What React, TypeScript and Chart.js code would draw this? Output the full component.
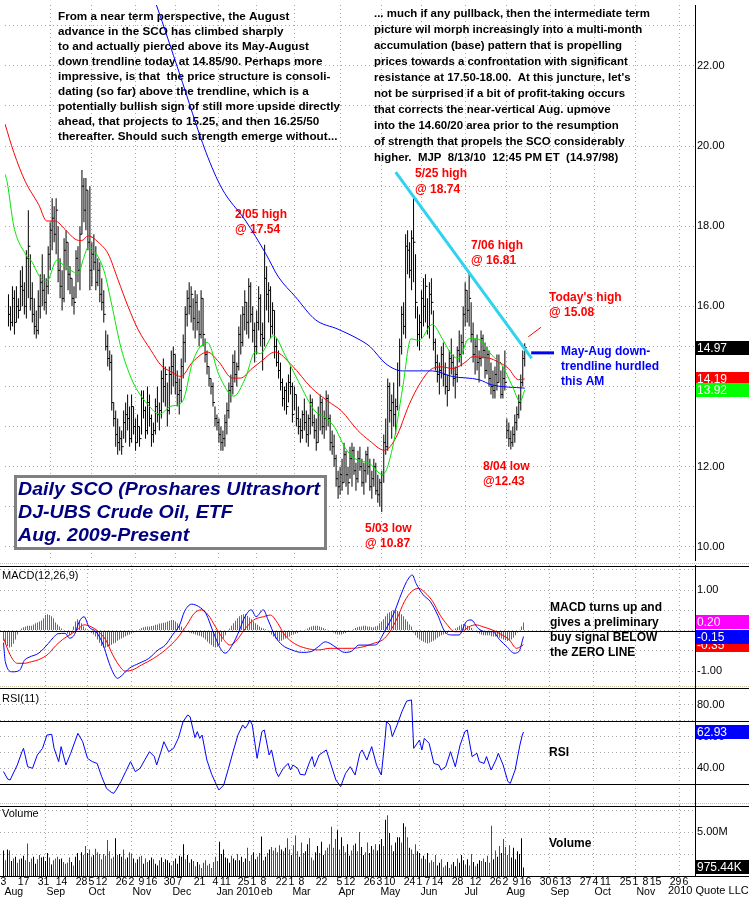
import React, { useEffect, useRef } from 'react';
import { Chart, registerables } from 'chart.js';

Chart.register(...registerables);
if (typeof document !== 'undefined') document.body.style.margin = '0';

// ---------------- data ----------------
// daily bars, index 0 = 2009-08-03 ... 260 = 2010-08-13
const LOWS = [
  15.5, 15.4, 15.5, 15.3, 15.6, 15.7, 15.9, 16.0, 15.8, 15.7,
  16.2, 15.9, 15.6, 15.3, 15.2, 15.3, 15.7, 16.0, 15.9, 15.8,
  16.3, 16.9, 17.4, 17.6, 17.3, 16.6, 16.2, 15.9, 16.1, 16.9,
  16.4, 16.3, 16.0, 15.8, 16.2, 16.6, 16.4, 17.8, 18.1, 17.9,
  17.4, 16.4, 16.5, 16.9, 16.4, 16.5, 16.1, 15.9, 15.6, 14.9,
  14.5, 14.4, 13.4, 13.0, 12.5, 12.3, 12.4, 12.3, 12.7, 12.6,
  12.9, 12.5, 12.6, 12.8, 12.4, 12.6, 12.5, 12.8, 13.2, 12.7,
  12.8, 13.0, 12.5, 12.6, 12.8, 13.1, 12.9, 13.2, 13.6, 13.5,
  13.0, 13.3, 13.8, 14.0, 13.8, 13.5, 13.3, 13.6, 14.2, 14.6,
  15.5, 15.8, 15.6, 15.4, 15.2, 15.4, 15.0, 15.2, 15.0, 14.6,
  14.3, 14.0, 13.8, 13.5, 13.0, 12.9, 12.6, 12.4, 12.4, 12.5,
  12.8, 13.2, 13.6, 13.8, 14.1, 14.0, 14.4, 14.8, 15.0, 15.4,
  15.3, 15.2, 15.6, 15.1, 14.6, 14.8, 15.4, 15.0, 14.4, 15.0,
  15.9, 15.6, 15.2, 15.3, 14.7, 14.5, 14.2, 13.9, 13.5, 13.4,
  13.3, 13.6, 13.8, 13.1, 13.4, 13.0, 12.8, 12.6, 12.7, 12.9,
  12.6, 12.5, 12.8, 13.0, 12.7, 12.4, 12.6, 12.9, 12.8, 12.7,
  12.9, 13.0, 12.4, 12.3, 12.0, 11.5, 11.2, 11.3, 11.4, 11.6,
  11.5, 11.3, 11.7, 11.5, 11.8, 11.4, 11.6, 11.9, 11.5, 11.3,
  11.6, 11.8, 11.4, 11.2, 11.5, 11.3, 11.1, 11.0, 10.87, 11.6,
  12.3, 12.4, 13.1, 12.7, 13.0, 12.8, 13.4, 14.0, 14.8, 15.3,
  15.2, 16.8, 16.7, 16.4, 16.6, 15.7, 15.0, 14.9, 15.2, 15.5,
  15.6, 15.3, 15.2, 15.8, 14.9, 14.4, 14.1, 13.8, 14.2, 14.0,
  13.8, 13.5, 13.9, 14.3, 14.0, 13.7, 14.1, 14.6, 14.5, 14.8,
  15.5, 15.6, 15.5, 15.1, 14.6, 14.3, 14.4, 14.1, 14.5, 14.7,
  14.2, 14.3, 14.0, 13.8, 13.7, 13.7, 13.9, 14.1, 13.7, 13.7,
  13.9, 12.7, 12.5, 12.43, 12.5, 12.6, 12.9, 13.2, 13.4, 14.0, 14.5,
];
const HIGHS = [
  16.3, 16.0, 16.5, 16.4, 16.5, 16.2, 16.9, 17.0, 16.6, 17.4,
  18.4, 17.3, 16.6, 16.2, 15.9, 16.4, 16.8, 17.3, 16.8, 16.7,
  17.5, 18.1, 18.7, 18.5, 18.7, 18.0, 17.2, 16.9, 17.7, 17.9,
  17.6, 17.0, 16.7, 16.5, 17.4, 17.5, 18.0, 19.4, 19.2, 19.2,
  18.9, 19.0, 17.6, 17.8, 17.5, 17.2, 17.1, 16.7, 16.4, 15.4,
  15.3, 14.9, 14.8, 13.6, 13.4, 13.2, 13.0, 12.9, 13.4, 13.6,
  13.8, 13.5, 13.8, 13.5, 13.2, 13.3, 13.0, 13.9, 13.9, 13.5,
  14.0, 13.8, 13.3, 13.1, 13.7, 14.0, 13.6, 14.4, 14.7, 14.5,
  14.1, 14.5, 14.9, 15.0, 14.8, 14.4, 14.2, 14.7, 15.3, 16.0,
  16.4, 16.6, 16.5, 16.2, 16.4, 16.3, 15.9, 16.4, 16.2, 15.2,
  14.9, 14.5, 14.2, 14.1, 13.5, 13.3, 13.2, 13.0, 12.9, 13.3,
  13.6, 14.1, 14.3, 14.8, 14.9, 14.6, 15.5, 15.8, 16.0, 16.4,
  16.1, 16.7, 16.6, 16.0, 15.6, 15.9, 16.5, 16.3, 15.6, 17.54,
  17.0, 16.6, 16.5, 16.1, 15.9, 15.2, 14.9, 14.6, 14.2, 14.0,
  14.1, 14.3, 14.5, 14.1, 14.0, 13.8, 13.5, 13.2, 13.4, 13.7,
  13.4, 13.3, 13.8, 13.7, 13.3, 13.2, 13.5, 13.8, 13.7, 13.4,
  13.9, 13.8, 13.3, 12.9, 12.8, 12.3, 11.9, 12.0, 12.2, 12.6,
  12.4, 12.0, 12.5, 12.6, 12.5, 12.1, 12.4, 12.5, 12.2, 12.1,
  12.4, 12.5, 12.2, 11.9, 12.2, 12.1, 11.8, 11.7, 11.9, 12.8,
  13.2, 14.2, 14.1, 13.8, 14.1, 13.7, 14.6, 15.2, 16.0, 16.1,
  17.8, 17.9, 17.6, 17.9, 18.74, 17.3, 16.0, 15.8, 16.4, 16.7,
  16.8, 16.2, 16.6, 16.7, 15.9, 15.2, 14.8, 14.6, 15.0, 15.1,
  14.6, 14.3, 14.9, 15.2, 14.8, 14.5, 15.0, 15.4, 15.3, 16.0,
  16.6, 16.4, 16.81, 16.1, 15.6, 15.2, 15.3, 14.9, 15.4, 15.3,
  15.1, 15.0, 14.9, 14.6, 14.4, 14.5, 14.8, 14.8, 14.4, 14.5,
  14.9, 13.2, 13.1, 12.9, 13.0, 13.3, 13.5, 13.8, 14.3, 14.9, 15.08,
];
const CLOSES = [
  15.8, 15.6, 16.2, 15.6, 16.0, 15.9, 16.5, 16.4, 16.0, 17.2,
  17.5, 16.2, 15.8, 15.5, 15.4, 16.0, 16.6, 16.4, 16.1, 16.5,
  17.3, 17.9, 18.2, 17.8, 18.4, 16.9, 16.5, 16.2, 17.4, 17.6,
  16.8, 16.7, 16.2, 16.1, 17.2, 16.9, 17.8, 19.0, 18.4, 18.9,
  17.6, 16.9, 17.3, 17.1, 16.6, 16.9, 16.3, 16.1, 15.8, 15.0,
  14.7, 14.6, 13.6, 13.2, 12.8, 12.6, 12.7, 12.5, 13.1, 13.3,
  13.2, 12.7, 13.5, 13.0, 12.6, 13.0, 12.7, 13.7, 13.4, 12.9,
  13.6, 13.2, 12.8, 12.9, 13.5, 13.3, 13.4, 14.2, 14.0, 14.3,
  13.4, 14.3, 14.5, 14.8, 14.1, 13.8, 13.9, 14.5, 15.1, 15.8,
  16.2, 16.0, 16.3, 15.7, 16.1, 15.6, 15.3, 16.2, 15.3, 14.8,
  14.5, 14.2, 14.0, 13.6, 13.2, 13.1, 12.8, 12.6, 12.7, 13.1,
  13.4, 13.9, 14.0, 14.6, 14.3, 14.5, 15.3, 15.1, 15.8, 16.1,
  15.6, 16.5, 15.8, 15.4, 15.0, 15.6, 16.2, 15.3, 15.2, 16.7,
  16.3, 16.4, 15.5, 15.9, 15.0, 14.6, 14.4, 14.1, 13.7, 13.9,
  13.5, 14.1, 14.0, 13.3, 13.8, 13.2, 13.0, 12.9, 13.3, 13.1,
  12.8, 13.2, 13.6, 13.1, 12.9, 12.6, 13.3, 13.6, 13.0, 13.2,
  13.7, 13.2, 12.6, 12.5, 12.2, 11.7, 11.5, 11.8, 11.6, 12.3,
  11.8, 11.6, 12.2, 12.4, 11.9, 11.7, 12.2, 12.0, 11.6, 11.9,
  12.3, 12.0, 11.5, 11.7, 12.0, 11.4, 11.3, 11.6, 11.8, 12.6,
  12.5, 14.0, 13.4, 13.6, 13.3, 13.5, 14.4, 15.0, 15.8, 15.5,
  17.5, 17.4, 16.9, 17.7, 17.6, 16.1, 15.3, 15.6, 16.2, 16.0,
  16.5, 15.5, 16.3, 16.1, 15.1, 14.6, 14.3, 14.4, 14.8, 14.3,
  14.0, 13.9, 14.7, 14.6, 14.2, 14.3, 14.9, 14.8, 15.1, 15.8,
  16.4, 15.9, 16.2, 15.3, 14.8, 15.0, 14.6, 14.7, 15.2, 14.9,
  14.4, 14.8, 14.2, 14.0, 13.9, 14.3, 14.1, 14.6, 13.8, 14.2,
  14.1, 12.9, 12.7, 12.6, 12.8, 13.1, 13.3, 13.6, 14.1, 14.7, 14.97,
];
// millions of shares
const VOLUME_M = [
  2.9, 1.8, 3.0, 2.9, 1.7, 2.0, 2.2, 1.5, 1.9, 2.0, 2.3,
  1.8, 3.7, 1.6, 2.0, 2.2, 1.4, 1.9, 2.4, 2.1, 2.2,
  1.7, 2.6, 2.1, 1.3, 1.8, 2.0, 2.2, 1.9, 2.0, 1.6,
  1.4, 1.5, 2.1, 1.6, 1.2, 2.2, 2.6, 1.8, 2.7, 2.4,
  3.4, 2.6, 3.0, 2.2, 2.4, 3.1, 2.7, 2.5, 1.9, 2.5,
  2.3, 4.1, 2.8, 2.0, 2.2, 4.3, 2.4, 2.5, 2.2, 3.0,
  1.9, 2.1, 2.7, 2.5, 2.0, 1.5, 1.9, 2.2, 2.3, 1.4,
  2.0, 1.6, 1.8, 2.1, 1.9, 1.4, 1.2, 1.8, 2.1, 1.6,
  1.9, 1.8, 1.5, 1.2, 1.7, 2.0, 1.4, 2.3, 2.2, 3.6,
  1.9, 2.4, 1.5, 1.9, 1.7, 1.1, 1.6, 1.3, 0.9, 1.5,
  1.8, 1.2, 1.4, 0.9, 1.6, 2.2, 1.7, 3.9, 2.5, 3.0,
  2.1, 2.0, 1.5, 2.3, 2.0, 1.8, 2.5, 1.8, 2.2, 1.6,
  2.0, 3.2, 1.7, 2.4, 2.7, 1.9, 2.2, 2.6, 4.5, 1.8,
  2.2, 2.6, 3.0, 3.3, 2.9, 3.2, 2.7, 3.5, 3.0, 2.8,
  3.2, 4.3, 3.0, 2.4, 3.5, 4.6, 2.8, 2.2, 3.8, 2.6,
  2.8, 3.6, 4.3, 2.1, 1.8, 2.7, 3.4, 2.6, 3.9, 2.4,
  2.9, 3.2, 3.6, 5.6, 3.2, 4.2, 5.2, 3.0, 4.4, 3.4,
  2.7, 3.6, 2.3, 2.9, 3.5, 3.7, 2.8, 5.0, 3.3, 2.4,
  2.7, 3.8, 2.6, 3.4, 3.0, 3.6, 2.9, 3.6, 4.2, 3.4,
  6.4, 6.9, 4.9, 3.5, 2.8, 3.8, 4.4, 4.4, 3.8, 6.0,
  5.6, 4.4, 3.2, 3.0, 2.5, 3.6, 2.8, 2.6, 2.0, 2.3,
  1.9, 2.6, 1.5, 1.8, 1.6, 2.4, 1.2, 1.5, 1.9, 1.0,
  1.2, 1.6, 0.9, 1.3, 1.6, 1.1, 2.0, 1.5, 2.4, 1.8,
  1.3, 1.9, 1.2, 2.5, 1.6, 1.1, 1.4, 1.8, 1.7, 2.0,
  1.6, 2.3, 1.5, 5.7, 1.9, 2.9, 2.2, 3.4, 2.6, 4.2,
  3.3, 2.4, 3.5, 2.1, 3.2, 1.9, 2.8, 2.5, 4.3, 0.97544,
];
const MACD_HIST = [
  -0.25, -0.33, -0.38, -0.42, -0.40, -0.33, -0.22, -0.10, -0.04,
  0.05, 0.08, 0.10, 0.12, 0.12,
  0.12, 0.15, 0.18, 0.20, 0.22, 0.25, 0.30,
  0.38, 0.40, 0.38, 0.35, 0.30,
  0.20, 0.15, 0.10, 0.05, 0.02, -0.02,
  -0.08, -0.12, -0.08,
  0.10, 0.22, 0.28, 0.25, 0.18,
  0.10, 0.05, 0.02, -0.02, -0.06, -0.10, -0.15,
  -0.22, -0.30, -0.38, -0.42, -0.42, -0.40, -0.38,
  -0.35, -0.32, -0.30, -0.25, -0.22,
  -0.20, -0.17, -0.14, -0.12, -0.10, -0.07, -0.05, -0.03, 0.00, 0.03,
  0.06, 0.08, 0.09, 0.10, 0.10, 0.11, 0.12, 0.14, 0.15, 0.17, 0.18, 0.19, 0.20,
  0.22, 0.24, 0.26, 0.26, 0.22, 0.18, 0.15, 0.10,
  0.05, 0.00, -0.03, -0.05, -0.07, -0.08, -0.10, -0.12, -0.13, -0.15,
  -0.18, -0.22, -0.28, -0.32, -0.36, -0.40, -0.42, -0.40, -0.36,
  -0.28, -0.20, -0.12, -0.04, 0.05, 0.12, 0.18, 0.24, 0.30,
  0.35, 0.38, 0.40, 0.40, 0.36, 0.32, 0.28,
  0.22, 0.18, 0.14, 0.10, 0.07, 0.05, 0.03, 0.00,
  -0.05, -0.10, -0.15, -0.20, -0.24, -0.26, -0.25, -0.22, -0.20, -0.17, -0.15, -0.12, -0.10, -0.08, -0.06,
  -0.04, -0.02, 0.00, 0.02, 0.05, 0.08,
  0.10, 0.12, 0.12, 0.12, 0.10, 0.08, 0.06, 0.04, 0.02, 0.00,
  -0.03, -0.05, -0.08, -0.10, -0.10, -0.10, -0.08, -0.06, -0.04, -0.02, 0.00, 0.03,
  0.06, 0.08, 0.10, 0.10, 0.12, 0.12, 0.10, 0.10, 0.08, 0.08, 0.10, 0.12,
  0.18, 0.22, 0.28, 0.35, 0.42, 0.45, 0.48, 0.50, 0.50, 0.48,
  0.45, 0.40, 0.35, 0.28, 0.22, 0.15, 0.10,
  -0.05, -0.12, -0.18, -0.22, -0.25, -0.28, -0.30, -0.32, -0.30,
  -0.28, -0.25, -0.22, -0.18, -0.15, -0.12, -0.10, -0.08, -0.06, -0.04, -0.02,
  0.02, 0.05, 0.08, 0.12, 0.15, 0.16, 0.15, 0.12, 0.10,
  0.06, 0.02, -0.02, -0.05, -0.08, -0.10, -0.12, -0.12, -0.12, -0.12, -0.14, -0.15, -0.15, -0.16,
  -0.18, -0.20, -0.22, -0.24, -0.26, -0.25, -0.22, -0.18, -0.12, -0.05, 0.02,
  0.10, 0.20,
];
// [session index, value]
const MA_FAST = [
  [-1.75, 19.3], [-0.7, 19.11], [2.7, 18.0], [8.5, 17.31], [12, 17.1], [15.2, 16.78], [19.3, 16.62],
  [24.3, 17.15], [27.7, 17.03], [32.7, 16.86], [35.2, 16.82], [37.5, 17.15], [40.2, 17.47], [45.2, 17.23],
  [48.5, 16.82], [51.8, 16.09], [56.8, 14.94], [61.8, 14.21], [65.2, 13.88], [70.2, 13.55], [76, 13.31],
  [81.8, 13.51], [86, 13.55], [88.5, 13.72], [92.7, 14.61], [100.2, 15.1], [106, 14.29], [113.5, 13.76],
  [119.3, 14.21], [124.3, 14.86], [126.8, 14.82], [133.5, 15.27], [139.3, 14.78], [146, 14.13],
  [154.3, 13.39], [159.3, 13.23], [164.3, 12.98], [169.3, 12.49], [174.5, 12.2], [181.8, 12.08],
  [188.5, 11.8], [193.5, 12.49], [198.5, 13.96], [202.7, 15.19], [206.8, 15.15], [213.5, 15.55],
  [218.5, 15.19], [223.5, 14.78], [226.8, 14.7], [231.8, 15.19], [236, 15.19], [243.5, 14.78],
  [248.5, 14.53], [253.5, 14.04], [257.7, 13.63], [260, 13.92],
];
const MA_MID = [
  [-1.75, 20.55], [2.7, 19.84], [8.5, 19.11], [15.2, 18.54], [19.3, 18.13], [23.5, 18.13], [28.5, 17.92],
  [33.5, 17.68], [36.8, 17.64], [40.2, 17.76], [45.2, 17.6], [50.2, 17.31], [55.2, 16.66], [60.2, 16.0],
  [65.2, 15.43], [71.8, 14.9], [76.8, 14.53], [81.8, 14.37], [86.8, 14.25], [92.7, 14.61], [100.2, 14.86],
  [106, 14.61], [112.7, 14.21], [116.8, 14.21], [122.7, 14.45], [126.8, 14.61], [134.3, 14.86],
  [142.7, 14.53], [152.7, 13.96], [161, 13.63], [167.7, 13.39], [176, 12.9], [181.8, 12.65],
  [189.3, 12.41], [195.2, 12.73], [201.8, 13.55], [206.8, 14.04], [213.5, 14.45], [218.5, 14.49],
  [223.5, 14.45], [230.2, 14.61], [233.5, 14.74], [241.8, 14.71], [246.8, 14.61], [251.8, 14.45],
  [256.8, 14.17], [260, 14.19],
];
const MA_SLOW = [
  [65, 24.8], [74.5, 23.52], [86, 21.83], [99.5, 19.84], [107.5, 18.94], [119.5, 18.13], [129.5, 17.32],
  [136, 16.73], [144.5, 16.24], [154.5, 15.67], [166, 15.43], [176, 15.19], [182, 15.0], [190, 14.57],
  [198.5, 14.39], [213.5, 14.39], [223.5, 14.25], [237, 14.17], [243.5, 14.04], [260, 13.96],
];
const MACD_LINE = [
  [0, -0.30], [0.9, -0.77], [4.5, -1.02], [8.1, -0.98], [10.4, -0.74], [12.8, -0.66], [17.6, -0.56],
  [22.4, -0.32], [24.8, -0.18], [27.2, -0.08], [30.8, -0.07], [33.1, -0.19], [35.5, -0.10], [37.9, 0.22],
  [40.3, 0.34], [42.7, 0.09], [46.3, -0.03], [49.9, -0.36], [52.3, -0.73], [54.6, -1.02], [57, -1.18],
  [59.4, -1.10], [63, -0.93], [67.8, -0.81], [72.6, -0.69], [77.3, -0.48], [80.9, -0.36], [84.5, -0.11],
  [88.1, 0.14], [90.5, 0.47], [94.1, 0.65], [97.6, 0.59], [101.2, 0.42], [104.8, -0.03], [108.4, -0.44],
  [110.8, -0.56], [114.4, -0.36], [118, 0.01], [120.3, 0.30], [123.9, 0.51], [126.3, 0.34], [129.9, 0.51],
  [132.3, 0.26], [135.9, -0.15], [139.4, -0.36], [144.2, -0.48], [149, -0.54], [153.8, -0.52],
  [157.4, -0.40], [160.9, -0.28], [163.3, -0.32], [166.9, -0.44], [170.5, -0.54], [174.1, -0.51],
  [177.7, -0.36], [184.8, -0.36], [187.2, -0.32], [189.6, -0.11], [193.2, 0.22], [195.6, 0.47],
  [198, 0.79], [201.6, 1.21], [204.4, 1.37], [206.3, 1.16], [209.9, 0.88], [213.5, 0.71], [217.1, 0.38],
  [220.7, -0.03], [224.3, -0.11], [227.8, -0.11], [231.4, 0.22], [233.8, 0.26], [237.4, 0.05],
  [241, -0.03], [244.6, -0.03], [248.1, -0.23], [251.7, -0.40], [255.3, -0.56], [257.7, -0.52], [260, -0.15],
];
const MACD_SIGNAL = [
  [0, -0.19], [3.3, -0.60], [6.9, -0.81], [10.4, -0.81], [14, -0.77], [17.6, -0.72], [22.4, -0.58],
  [26, -0.38], [29.6, -0.22], [33.1, -0.11], [36.7, 0.01], [40.3, 0.14], [43.9, 0.09], [47.5, -0.03],
  [51.1, -0.23], [54.6, -0.60], [58.2, -0.89], [60.6, -1.00], [64.2, -0.98], [69, -0.85], [75, -0.69],
  [80.9, -0.48], [86.9, -0.19], [91.7, 0.14], [95.3, 0.42], [98.8, 0.51], [102.4, 0.38], [106, 0.09],
  [109.6, -0.19], [113.2, -0.36], [116.8, -0.23], [120.3, 0.01], [125.1, 0.26], [129.9, 0.34],
  [133.5, 0.38], [137.1, 0.18], [140.6, -0.11], [145.4, -0.32], [151.4, -0.44], [157.4, -0.48],
  [163.3, -0.44], [169.3, -0.44], [174.1, -0.44], [180.1, -0.40], [184.8, -0.32], [189.6, -0.23],
  [193.2, -0.03], [196.8, 0.30], [200.4, 0.71], [204, 0.96], [207.5, 1.04], [211.1, 0.92], [214.7, 0.71],
  [218.3, 0.38], [221.9, 0.14], [225.4, -0.03], [229, -0.03], [232.6, 0.09], [236.2, 0.14], [239.8, 0.09],
  [244.6, 0.01], [249.3, -0.11], [252.9, -0.23], [256.5, -0.44], [260, -0.35],
];
const RSI_LINE = [
  [0, 37.9], [2.1, 33.2], [3.3, 32.6], [6.9, 42.1], [9.25, 50.5], [10, 52.6], [12.1, 41.0], [14.5, 40.0],
  [16.9, 48.4], [19.5, 52.6], [21.7, 61.0], [24.1, 61.5], [25.3, 52.6], [27.6, 44.2], [28.8, 53.7],
  [31.2, 42.1], [33.6, 49.5], [37.2, 62.1], [39.6, 56.8], [42, 46.3], [44.4, 44.2], [46.8, 43.1],
  [49.1, 34.7], [51.5, 27.3], [53.9, 24.8], [55.1, 24.2], [56.3, 26.3], [58.7, 31.6], [61.1, 37.9],
  [63.5, 44.2], [65.9, 37.9], [68.3, 40.0], [70.6, 45.2], [73, 50.5], [75.4, 47.4], [76.6, 42.1],
  [79, 51.6], [80.2, 56.8], [82.6, 50.5], [85, 52.6], [87.4, 58.9], [89.8, 69.5], [92.1, 73.7],
  [93.3, 72.6], [95.7, 59.4], [96.9, 63.2], [98.1, 58.9], [99.3, 61.0], [101.7, 45.2], [104.1, 36.2],
  [106.5, 29.4], [107.7, 26.3], [110.1, 29.4], [112.5, 40.0], [114.8, 50.5], [117.2, 61.0], [119.6, 67.4],
  [120.8, 65.3], [122, 67.4], [123.2, 70.5], [124.4, 67.4], [126.8, 46.3], [129.2, 63.2], [130.4, 64.2],
  [132.8, 48.4], [134, 51.6], [136.3, 37.9], [137.5, 34.7], [139.9, 40.0], [142.3, 43.1], [143.5, 38.9],
  [144.7, 42.1], [147.1, 40.0], [148.3, 36.2], [150.7, 35.8], [153.1, 44.2], [154.3, 47.4], [155.5, 41.0],
  [157.8, 48.4], [160.2, 50.5], [161.4, 51.6], [163.8, 42.1], [166.2, 32.6], [168.6, 28.4], [171, 36.8],
  [173.4, 41.0], [175.8, 35.8], [178.2, 49.5], [179.3, 51.6], [181.7, 45.2], [184.1, 53.7], [186.5, 42.1],
  [188.9, 35.8], [190.8, 58.9], [191.5, 69.5], [193.2, 67.4], [194.4, 60.0], [196.8, 67.4], [199.2, 75.8],
  [201.6, 82.5], [204, 83.2], [205.1, 52.6], [208, 57.9], [209.2, 51.6], [210.4, 58.9], [212.8, 55.8],
  [215.2, 43.1], [217.6, 42.1], [218.8, 38.9], [221.1, 41.0], [223.5, 50.5], [225.9, 41.0], [228.3, 54.7],
  [230.7, 63.2], [231.9, 64.2], [234.3, 47.4], [236.7, 49.5], [237.9, 44.2], [240.3, 43.1], [241.5, 47.4],
  [243.8, 38.9], [246.2, 45.2], [247.4, 49.5], [249.8, 42.1], [252.2, 31.6], [253.4, 30.5], [255.8, 38.9],
  [258.2, 54.7], [259.4, 61.0], [260, 62.93],
];
const TRENDLINE = [[195, 19.35], [263.5, 14.7]];
const TREND_MARKER = [[263.25, 14.84], [274.75, 14.84]];
const HIGH_POINTER = [[261.75, 15.24], [268.25, 15.48]];

const PRICE_TICKS = [10, 11, 12, 13, 14, 15, 16, 17, 18, 19, 20, 21, 22, 23];
const MACD_TICKS = [-1, -0.5, 0, 0.5, 1, 1.5];
const RSI_TICKS = [30, 40, 50, 60, 70, 80];
const VOLUME_TICKS = [2.5, 5, 7.5];
const RSI_BANDS = [70, 30];

const LAST_PRICE = 14.97;
const LAST_MID = 14.19;
const LAST_FAST = 13.92;
const LAST_HIST = 0.2;
const LAST_MACD = -0.15;
const LAST_SIGNAL = -0.35;
const LAST_RSI = 62.93;
const LAST_VOLUME_M = 0.97544;

const HOLIDAYS = ['2009-09-07', '2009-11-26', '2009-12-25', '2010-01-01', '2010-01-18', '2010-02-15', '2010-04-02', '2010-05-31', '2010-07-05'];
const LAST_SESSION = '2010-08-13';
const DAY_TICKS = [
  '2009-08-03', '2009-08-17', '2009-08-31', '2009-09-14', '2009-09-28', '2009-10-05', '2009-10-12',
  '2009-10-26', '2009-11-02', '2009-11-09', '2009-11-16', '2009-11-30', '2009-12-07', '2009-12-21',
  '2010-01-04', '2010-01-11', '2010-01-25', '2010-02-01', '2010-02-08', '2010-02-22', '2010-03-01',
  '2010-03-08', '2010-03-22', '2010-04-05', '2010-04-12', '2010-04-26', '2010-05-03', '2010-05-10',
  '2010-05-24', '2010-06-01', '2010-06-07', '2010-06-14', '2010-06-28', '2010-07-12', '2010-07-26',
  '2010-08-02', '2010-08-09', '2010-08-16', '2010-08-30', '2010-09-06', '2010-09-13', '2010-09-27',
  '2010-10-04', '2010-10-11', '2010-10-25', '2010-11-01', '2010-11-08', '2010-11-15', '2010-11-29', '2010-12-06',
];
const MONTH_NAMES = ['Jan', 'Feb', 'Mar', 'Apr', 'May', 'Jun', 'Jul', 'Aug', 'Sep', 'Oct', 'Nov', 'Dec'];

const LEFT_NOTE = [
  'From a near term perspective, the August',
  'advance in the SCO has climbed sharply',
  'to and actually pierced above its May-August',
  'down trendline today at 14.85/90. Perhaps more',
  'impressive, is that  the price structure is consoli-',
  'dating (so far) above the trendline, which is a',
  'potentially bullish sign of still more upside directly',
  'ahead, that projects to 15.25, and then 16.25/50',
  'thereafter. Should such strength emerge without...',
];
const RIGHT_NOTE = [
  '... much if any pullback, then the intermediate term',
  'picture wil morph increasingly into a multi-month',
  'accumulation (base) pattern that is propelling',
  'prices towards a confrontation with significant',
  "resistance at 17.50-18.00.  At this juncture, let's",
  'not be surprised if a bit of profit-taking occurs',
  'that corrects the near-vertical Aug. upmove',
  'into the 14.60/20 area prior to the resumption',
  'of strength that propels the SCO considerably',
  'higher.  MJP  8/13/10  12:45 PM ET  (14.97/98)',
];
const TITLE_LINES = ['Daily SCO (Proshares Ultrashort', 'DJ-UBS Crude Oil, ETF', 'Aug. 2009-Present'];
const MACD_NOTE = ['MACD turns up and', 'gives a preliminary', 'buy signal BELOW', 'the ZERO LINE'];
const BLUE_NOTE = ['May-Aug down-', 'trendline hurdled', 'this AM'];

// ---------------- layout / style ----------------
const W = 749;
const H = 897;
const AXIS_W = 54;
const PLOT_R = W - AXIS_W;
const X_MIN = -1.75;
const X_MAX = 345.75;
const FONT = '"Liberation Sans", Arial, Helvetica, sans-serif';
const GRID = '#a8a8a8';
const BEIGE = '#c9c3a2';

function buildCalendar() {
  const index = new Map();
  const months = [];
  let n = 0;
  let last = '';
  for (let t = Date.UTC(2009, 7, 3); t <= Date.UTC(2010, 11, 31); t += 86400000) {
    const d = new Date(t);
    const wd = d.getUTCDay();
    if (wd === 0 || wd === 6) continue;
    const key = d.toISOString().slice(0, 10);
    if (key <= LAST_SESSION && HOLIDAYS.includes(key)) continue;
    const m = key.slice(0, 7);
    if (m !== last) {
      const mi = d.getUTCMonth();
      months.push({ idx: n, label: mi === 0 ? 'Jan ' + d.getUTCFullYear() : MONTH_NAMES[mi] });
      last = m;
    }
    index.set(key, n++);
  }
  return { index, months };
}
const CAL = buildCalendar();
const MONTH_GRID = CAL.months.filter((m) => m.idx > 0).map((m) => m.idx);

const pts = (arr) => arr.map(([x, y]) => ({ x, y }));

function xScale() {
  return {
    type: 'linear',
    min: X_MIN,
    max: X_MAX,
    offset: false,
    afterBuildTicks: (s) => { s.ticks = MONTH_GRID.map((v) => ({ value: v })); },
    afterFit: (s) => { s.height = 0; s.paddingLeft = 0; s.paddingRight = 0; },
    ticks: { display: false },
    grid: { color: GRID, lineWidth: 1, drawTicks: false, offset: false },
    border: { display: false, dash: [1, 3] },
  };
}
function yScale(min, max, values, label) {
  return {
    type: 'linear',
    position: 'right',
    min,
    max,
    afterBuildTicks: (s) => { s.ticks = values.map((v) => ({ value: v })); },
    afterFit: (s) => { s.width = AXIS_W; s.paddingTop = 0; s.paddingBottom = 0; },
    ticks: { callback: (v) => label(v), color: '#000', font: { family: FONT, size: 11 }, padding: 2, autoSkip: false },
    grid: { color: GRID, lineWidth: 1, drawTicks: false },
    border: { display: true, color: '#000', width: 1, dash: [1, 3] },
  };
}
function baseOptions(y, bottom = 0) {
  return {
    responsive: false,
    animation: false,
    devicePixelRatio: 1,
    events: [],
    layout: { padding: { left: 0, right: 0, top: 0, bottom } },
    plugins: { legend: { display: false }, tooltip: { enabled: false } },
    scales: { x: xScale(), y },
  };
}

// ---------------- drawing helpers ----------------
function text(ctx, s, x, y, font, color, align = 'left') {
  ctx.font = font;
  ctx.fillStyle = color;
  ctx.textAlign = align;
  ctx.textBaseline = 'middle';
  ctx.fillText(s, x, y);
}
function fitted(ctx, lines, x, y0, dy, font, color, refIdx, refWidth) {
  ctx.save();
  ctx.font = font;
  const sx = refWidth / ctx.measureText(lines[refIdx]).width;
  ctx.fillStyle = color;
  ctx.textAlign = 'left';
  ctx.textBaseline = 'middle';
  lines.forEach((ln, i) => {
    ctx.save();
    ctx.translate(x, y0 + i * dy);
    ctx.scale(sx, 1);
    ctx.fillText(ln, 0, 0);
    ctx.restore();
  });
  ctx.restore();
}
function fullLine(ctx, y, color, dash) {
  ctx.save();
  ctx.strokeStyle = color;
  ctx.lineWidth = 1;
  ctx.setLineDash(dash || []);
  ctx.beginPath();
  ctx.moveTo(0, Math.round(y) + 0.5);
  ctx.lineTo(W, Math.round(y) + 0.5);
  ctx.stroke();
  ctx.restore();
}
function valueBox(chart, value, label, bg) {
  const ctx = chart.ctx;
  const y = Math.round(chart.scales.y.getPixelForValue(value));
  ctx.fillStyle = bg;
  ctx.fillRect(PLOT_R + 1, y - 7, W - PLOT_R - 1, 14);
  text(ctx, label, PLOT_R + 2, y + 0.5, `12px ${FONT}`, '#fff');
}
function titleBox(ctx) {
  const x = 14, y = 475, w = 313, h = 75;
  ctx.fillStyle = '#fff';
  ctx.fillRect(x, y, w, h);
  ctx.save();
  ctx.strokeStyle = '#000';
  ctx.lineWidth = 1;
  ctx.setLineDash([1, 1]);
  for (let k = 0; k < 3; k++) {
    ctx.lineDashOffset = k % 2;
    ctx.strokeRect(x + k + 0.5, y + k + 0.5, w - 2 * k - 1, h - 2 * k - 1);
  }
  ctx.restore();
  fitted(ctx, TITLE_LINES, 18, 490, 23, `italic bold 19px ${FONT}`, '#000080', 0, 302);
}

// ---------------- panels ----------------
function makePrice() {
  const plugin = {
    id: 'priceDecor',
    beforeDatasetsDraw(chart) {
      const ctx = chart.ctx;
      ctx.save();
      fitted(ctx, LEFT_NOTE, 58, 16.7, 15.05, `bold 11px ${FONT}`, '#000', 6, 282);
      fitted(ctx, RIGHT_NOTE, 374, 13.8, 16, `bold 11px ${FONT}`, '#000', 0, 276);
      const red = `bold 12px ${FONT}`;
      [
        ['2/05 high', 235, 215], ['@ 17.54', 235, 230],
        ['5/25 high', 415, 173.5], ['@ 18.74', 415, 189.5],
        ['7/06 high', 471, 245.5], ['@ 16.81', 471, 260.5],
        ["Today's high", 549, 298], ['@ 15.08', 549, 313],
        ['8/04 low', 483, 467], ['@12.43', 483, 482],
        ['5/03 low', 365, 529], ['@ 10.87', 365, 544],
      ].forEach(([s, x, y]) => text(ctx, s, x, y, red, '#ff0000'));
      BLUE_NOTE.forEach((s, i) => text(ctx, s, 561, 352 + i * 15, `bold 12px ${FONT}`, '#0000ff'));
      titleBox(ctx);
      ctx.restore();
    },
    afterDraw(chart) {
      const ctx = chart.ctx;
      ctx.save();
      valueBox(chart, LAST_PRICE, LAST_PRICE.toFixed(2), '#000000');
      valueBox(chart, LAST_MID, LAST_MID.toFixed(2), '#ff0000');
      valueBox(chart, LAST_FAST, LAST_FAST.toFixed(2), '#00ff00');
      fullLine(ctx, 563, BEIGE, [1, 1]);
      ctx.restore();
    },
  };
  const line = (data, color, width, order, smooth) => ({
    type: 'line', data: pts(data), borderColor: color, borderWidth: width, pointRadius: 0,
    cubicInterpolationMode: smooth ? 'monotone' : 'default', tension: 0, order,
  });
  return {
    type: 'bar',
    data: {
      datasets: [
        line(TRENDLINE, '#2fd3ef', 3, 0, false),
        line(TREND_MARKER, '#0000ff', 3, 1, false),
        line(HIGH_POINTER, '#ff0000', 1, 1, false),
        line(MA_FAST, '#00e600', 1, 2, true),
        line(MA_MID, '#ff0000', 1, 3, true),
        line(MA_SLOW, '#0000ff', 1, 4, true),
        {
          type: 'line', data: CLOSES.map((c, i) => ({ x: i, y: c })), showLine: false,
          pointStyle: 'dash', pointRadius: 2, pointBorderWidth: 1, borderColor: '#000',
          pointBorderColor: '#000', pointBackgroundColor: '#000', order: 5,
        },
        {
          type: 'bar', data: LOWS.map((l, i) => ({ x: i, y: [l, HIGHS[i]] })),
          backgroundColor: '#000', barThickness: 1, inflateAmount: 0, order: 6,
        },
      ],
    },
    options: baseOptions(yScale(22 - 503 / 40.8, 22 + 62 / 40.8, PRICE_TICKS, (v) => (v % 2 === 0 ? v.toFixed(2) : ''))),
    plugins: [plugin],
  };
}

function makeMacd() {
  const plugin = {
    id: 'macdDecor',
    afterDraw(chart) {
      const ctx = chart.ctx;
      ctx.save();
      fullLine(ctx, chart.scales.y.getPixelForValue(0), '#000');
      fullLine(ctx, 1, '#000');
      fullLine(ctx, 121, BEIGE, [1, 1]);
      text(ctx, 'MACD(12,26,9)', 2, 10.5, `11px ${FONT}`, '#000');
      MACD_NOTE.forEach((s, i) => text(ctx, s, 550, 42.7 + i * 15.1, `bold 12px ${FONT}`, '#000'));
      valueBox(chart, LAST_SIGNAL, LAST_SIGNAL.toFixed(2), '#ff0000');
      valueBox(chart, LAST_MACD, LAST_MACD.toFixed(2), '#0000ff');
      valueBox(chart, LAST_HIST, LAST_HIST.toFixed(2), '#ff00ff');
      ctx.restore();
    },
  };
  return {
    type: 'bar',
    data: {
      datasets: [
        { type: 'line', data: pts(MACD_LINE), borderColor: '#0000ff', borderWidth: 1, pointRadius: 0, cubicInterpolationMode: 'monotone', order: 0 },
        { type: 'line', data: pts(MACD_SIGNAL), borderColor: '#ff0000', borderWidth: 1, pointRadius: 0, cubicInterpolationMode: 'monotone', order: 1 },
        { type: 'bar', data: MACD_HIST.map((v, i) => ({ x: i, y: v })), backgroundColor: '#ff00ff', barThickness: 1, inflateAmount: 0, order: 2 },
      ],
    },
    options: baseOptions(yScale(-57.5 / 40.5, 65.5 / 40.5, MACD_TICKS, (v) => (Math.abs(v) === 1 ? v.toFixed(2) : ''))),
    plugins: [plugin],
  };
}

function makeRsi() {
  const plugin = {
    id: 'rsiDecor',
    afterDraw(chart) {
      const ctx = chart.ctx;
      ctx.save();
      RSI_BANDS.forEach((b) => fullLine(ctx, chart.scales.y.getPixelForValue(b), '#000'));
      fullLine(ctx, 0, '#000');
      fullLine(ctx, 115, BEIGE, [1, 1]);
      text(ctx, 'RSI(11)', 2, 11, `11px ${FONT}`, '#000');
      text(ctx, 'RSI', 549, 65, `bold 12px ${FONT}`, '#000');
      valueBox(chart, LAST_RSI, LAST_RSI.toFixed(2), '#0000ff');
      ctx.restore();
    },
  };
  return {
    type: 'line',
    data: {
      datasets: [
        { data: pts(RSI_LINE), borderColor: '#0000ff', borderWidth: 1, pointRadius: 0, tension: 0 },
      ],
    },
    options: baseOptions(yScale(80 - 100 / 1.5825, 80 + 17 / 1.5825, RSI_TICKS, (v) => (v % 20 === 0 ? v.toFixed(2) : ''))),
    plugins: [plugin],
  };
}

function makeVolume() {
  const plugin = {
    id: 'volumeDecor',
    afterDraw(chart) {
      const ctx = chart.ctx;
      const x = chart.scales.x;
      const bottom = chart.chartArea.bottom;
      ctx.save();
      fullLine(ctx, 0.5, '#000');
      fullLine(ctx, bottom, '#000');
      text(ctx, 'Volume', 2, 9, `11px ${FONT}`, '#000');
      text(ctx, 'Volume', 549, 38.5, `bold 12px ${FONT}`, '#000');
      const yv = Math.round(chart.scales.y.getPixelForValue(LAST_VOLUME_M));
      ctx.fillStyle = '#000';
      ctx.fillRect(PLOT_R + 1, yv - 7, W - PLOT_R - 1, 14);
      text(ctx, (LAST_VOLUME_M * 1000).toFixed(2) + 'K', PLOT_R + 2, yv + 0.5, `12px ${FONT}`, '#fff');

      const f = `10.5px ${FONT}`;
      DAY_TICKS.forEach((k) => {
        const i = CAL.index.get(k);
        if (i == null) return;
        text(ctx, String(Number(k.slice(8))), x.getPixelForValue(i), bottom + 6.5, f, '#000', 'center');
      });
      CAL.months.forEach((m) => text(ctx, m.label, x.getPixelForValue(m.idx) + 1, bottom + 16.5, f, '#000'));
      const jan = CAL.months.find((m) => m.label.startsWith('Jan'));
      if (jan) {
        const jx = x.getPixelForValue(jan.idx) + 1;
        ctx.font = f;
        const jw = ctx.measureText(jan.label).width;
        ctx.fillStyle = '#fff';
        ctx.fillRect(jx - 1, bottom + 11, jw + 2, 11);
        text(ctx, jan.label, jx, bottom + 16.5, f, '#000');
      }
      ctx.fillStyle = '#fff';
      ctx.fillRect(666, bottom + 9, W - 666, H - 805 - bottom - 9);
      text(ctx, '2010 Quote LLC', 668, bottom + 15, `11px ${FONT}`, '#000');
      ctx.restore();
    },
  };
  return {
    type: 'bar',
    data: {
      datasets: [
        {
          type: 'bar',
          data: VOLUME_M.map((v, i) => ({ x: i, y: v })),
          backgroundColor: VOLUME_M.map((_, i) => (i > 0 && CLOSES[i] < CLOSES[i - 1] ? '#ff0000' : '#000000')),
          barThickness: 1,
          inflateAmount: 0,
        },
      ],
    },
    options: baseOptions(yScale(0, 71 / 8.8, VOLUME_TICKS, (v) => (v === 5 ? '5.00M' : '')), 21),
    plugins: [plugin],
  };
}

function Panel({ top, height, make }) {
  const ref = useRef(null);
  useEffect(() => {
    if (!ref.current) return undefined;
    const chart = new Chart(ref.current, make());
    return () => chart.destroy();
  }, [make]);
  return (
    <canvas
      ref={ref}
      width={W}
      height={height}
      style={{ position: 'absolute', left: 0, top, width: W, height, display: 'block' }}
    />
  );
}

export default function App() {
  return (
    <div style={{ position: 'relative', width: W, height: H, background: '#fff', overflow: 'hidden' }}>
      <Panel top={0} height={565} make={makePrice} />
      <Panel top={565} height={123} make={makeMacd} />
      <Panel top={688} height={117} make={makeRsi} />
      <Panel top={805} height={92} make={makeVolume} />
    </div>
  );
}
